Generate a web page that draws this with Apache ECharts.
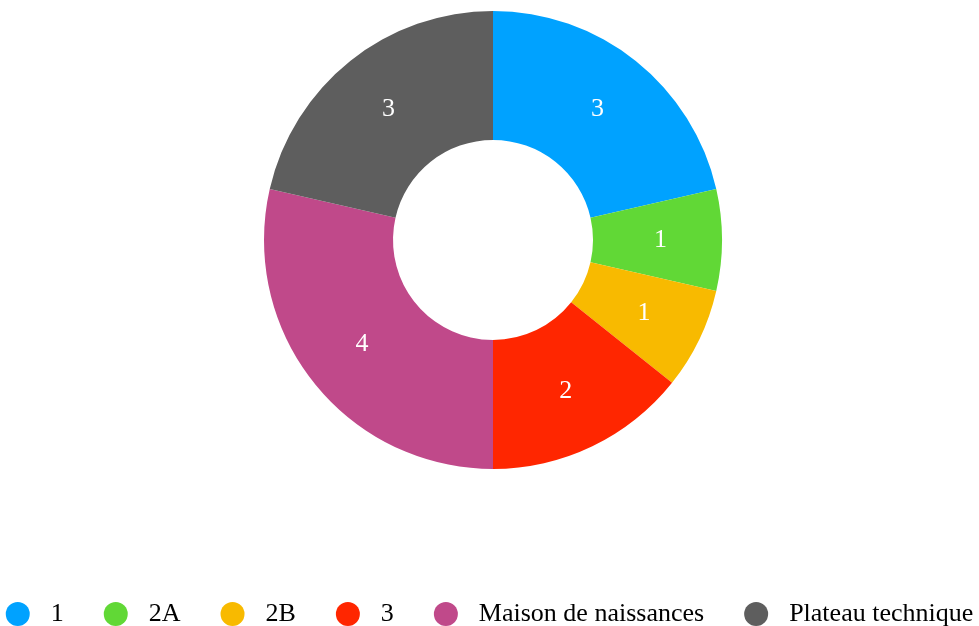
<!DOCTYPE html>
<html>
<head>
<meta charset="utf-8">
<script src="https://cdn.jsdelivr.net/npm/echarts@6/dist/echarts.min.js"></script>
<style>
html,body{margin:0;padding:0;background:#fff;}
#chart{width:979px;height:626px;}
</style>
</head>
<body>
<div id="chart"></div>
<script>
var categories = ['1', '2A', '2B', '3', 'Maison de naissances', 'Plateau technique'];
var values = [3, 1, 1, 2, 4, 3];
var colors = ['#00a2ff', '#61d836', '#f8ba00', '#ff2600', '#c0498a', '#5e5e5e'];

var chart = echarts.init(document.getElementById('chart'));
chart.setOption({
  animation: false,
  color: colors,
  textStyle: { fontFamily: 'Liberation Serif' },
  legend: {
    data: categories,
    left: 'center',
    top: 596,
    icon: 'circle',
    itemWidth: 24,
    itemHeight: 24,
    itemGap: 40,
    textStyle: { fontFamily: 'Liberation Serif', fontSize: 26, color: '#000', padding: [0, 0, 0, 16] }
  },
  series: [{
    type: 'pie',
    center: [493, 240],
    radius: [100, 229],
    startAngle: 90,
    clockwise: true,
    avoidLabelOverlap: false,
    label: {
      show: true,
      position: 'inner',
      formatter: '{c}',
      color: '#fff',
      fontFamily: 'Liberation Serif',
      fontSize: 26,
      padding: [4, 0, 0, 0]
    },
    labelLine: { show: false },
    itemStyle: { borderWidth: 0 },
    emphasis: { disabled: true },
    data: categories.map(function (c, i) { return { name: c, value: values[i] }; })
  }]
});
</script>
</body>
</html>
